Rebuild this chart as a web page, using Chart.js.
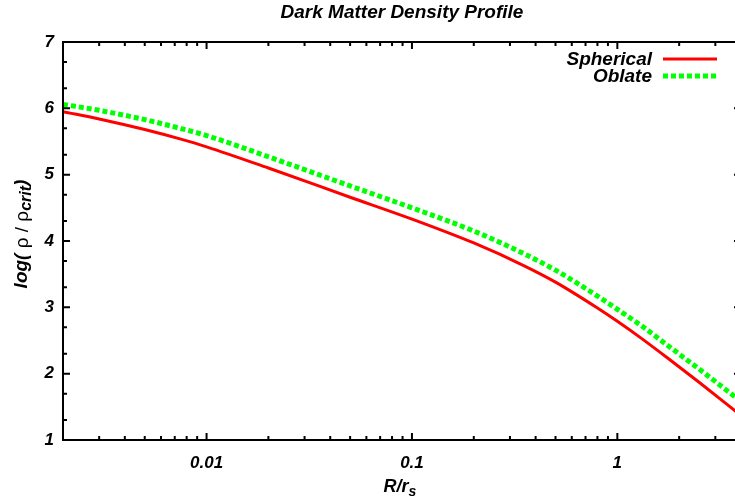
<!DOCTYPE html>
<html lang="en">
<head>
    <meta charset="UTF-8">
    <title>Dark Matter Density Profile</title>
    <style>
        body {
            margin: 0;
            padding: 0;
            background-color: #ffffff;
            overflow: hidden;
        }
        .wrap {
            position: relative;
            width: 745px;
            height: 504px;
        }
    </style>
</head>
<body>
    <div class="wrap">
        <canvas id="profileChart" width="745" height="504"></canvas>
    </div>

    <script src="https://cdn.jsdelivr.net/npm/chart.js"></script>
    <script>
        // Values
        const radius = [0.002, 0.003, 0.005, 0.0075, 0.01, 0.02, 0.05, 0.1, 0.2, 0.35, 0.5, 0.8, 1, 1.3, 1.75, 2.5, 4];
        const spherical = [5.95, 5.84, 5.68, 5.535, 5.42, 5.10, 4.66, 4.33, 3.97, 3.63, 3.38, 2.99, 2.79, 2.54, 2.24, 1.87, 1.37];
        const oblate = [6.06, 5.97, 5.83, 5.695, 5.59, 5.27, 4.83, 4.50, 4.15, 3.81, 3.56, 3.17, 2.97, 2.73, 2.43, 2.07, 1.58];
        const seriesNames = ['Spherical', 'Oblate'];
        const xTickValues = [0.01, 0.1, 1];
        const yTickValues = [1, 2, 3, 4, 5, 6, 7];

        const FONT = '"Liberation Sans", Arial, sans-serif';
        const ctx = document.getElementById('profileChart').getContext('2d');

        function toPoints(ys) {
            return radius.map((r, i) => ({ x: r, y: ys[i] }));
        }

        // Draws a row of text pieces with mixed fonts, centered on (0,0)
        function drawPieces(c, pieces) {
            let total = 0;
            pieces.forEach(p => { c.font = p.font; p.w = c.measureText(p.text).width; total += p.w; });
            let x = -total / 2;
            pieces.forEach(p => {
                c.font = p.font;
                c.fillText(p.text, x, p.dy || 0);
                x += p.w;
            });
        }

        // gnuplot-like frame, inward ticks, titles and key
        const decorations = {
            id: 'decorations',
            afterDatasetsDraw(chart) {
                const c = chart.ctx;
                const area = chart.chartArea;
                const xs = chart.scales.x;
                const ys = chart.scales.y;
                c.save();
                c.strokeStyle = '#000';
                c.fillStyle = '#000';
                c.lineWidth = 2;

                // frame
                c.strokeRect(area.left, area.top, area.right - area.left, area.bottom - area.top);

                // x ticks (log), bottom and top
                for (let d = -3; d <= 0; d++) {
                    for (let m = 1; m <= 9; m++) {
                        const v = m * Math.pow(10, d);
                        if (v < xs.min || v > xs.max) continue;
                        const px = xs.getPixelForValue(v);
                        const len = m === 1 ? 7 : 4;
                        c.beginPath();
                        c.moveTo(px, area.bottom); c.lineTo(px, area.bottom - len);
                        c.moveTo(px, area.top); c.lineTo(px, area.top + len);
                        c.stroke();
                    }
                }
                // y ticks, left and right
                for (let n = 1; n <= 7; n++) {
                    [0, Math.log10(2), Math.log10(5)].forEach((f, k) => {
                        const v = n + f;
                        if (v > ys.max) return;
                        const py = ys.getPixelForValue(v);
                        const len = k === 0 ? 7 : 4;
                        c.beginPath();
                        c.moveTo(area.left, py); c.lineTo(area.left + len, py);
                        c.moveTo(area.right, py); c.lineTo(area.right - len, py);
                        c.stroke();
                    });
                }

                // title
                const midX = (area.left + area.right) / 2;
                c.textAlign = 'left';
                c.textBaseline = 'middle';
                c.save();
                c.translate(midX, 13);
                drawPieces(c, [{ text: 'Dark Matter Density Profile', font: 'italic bold 19px ' + FONT }]);
                c.restore();

                // x axis title
                c.save();
                c.translate(midX - 2, 487);
                drawPieces(c, [
                    { text: 'R/r', font: 'italic bold 18px ' + FONT },
                    { text: 's', font: 'italic bold 14px ' + FONT, dy: 5 }
                ]);
                c.restore();

                // y axis title
                c.save();
                c.translate(22, 234);
                c.rotate(-Math.PI / 2);
                drawPieces(c, [
                    { text: 'log(', font: 'italic bold 19px ' + FONT },
                    { text: ' \u03C1 / \u03C1', font: '19px ' + FONT, dy: 1 },
                    { text: 'crit', font: 'italic bold 16px ' + FONT, dy: 5 },
                    { text: ')', font: 'italic bold 19px ' + FONT }
                ]);
                c.restore();

                // key
                c.textAlign = 'right';
                c.font = 'italic bold 19px ' + FONT;
                chart.data.datasets.forEach((ds, i) => {
                    const y = 60 + i * 17;
                    c.fillStyle = '#000';
                    c.fillText(ds.label, 652, y);
                    c.beginPath();
                    c.strokeStyle = ds.borderColor;
                    c.lineWidth = ds.borderWidth;
                    c.setLineDash(ds.borderDash || []);
                    c.moveTo(663, y - 1);
                    c.lineTo(717, y - 1);
                    c.stroke();
                    c.setLineDash([]);
                });
                c.restore();
            }
        };

        const chart = new Chart(ctx, {
            type: 'line',
            data: {
                datasets: [{
                    label: seriesNames[0],
                    data: toPoints(spherical),
                    borderColor: '#ff0000',
                    borderWidth: 3,
                    pointRadius: 0,
                    cubicInterpolationMode: 'monotone',
                    fill: false
                }, {
                    label: seriesNames[1],
                    data: toPoints(oblate),
                    borderColor: '#00ff00',
                    borderWidth: 5,
                    borderDash: [5, 3],
                    pointRadius: 0,
                    cubicInterpolationMode: 'monotone',
                    fill: false
                }]
            },
            options: {
                responsive: false,
                animation: false,
                layout: { padding: { top: 42, right: 4, left: 0, bottom: 0 } },
                plugins: {
                    legend: { display: false },
                    title: { display: false },
                    tooltip: { enabled: false }
                },
                scales: {
                    x: {
                        type: 'logarithmic',
                        min: 0.002,
                        max: 4,
                        grid: { display: false, drawTicks: false },
                        border: { display: false },
                        afterBuildTicks: axis => { axis.ticks = xTickValues.map(v => ({ value: v })); },
                        afterFit: axis => { axis.height = 64; },
                        ticks: {
                            color: '#000',
                            padding: 13,
                            maxRotation: 0,
                            font: { family: FONT, size: 17, style: 'italic', weight: 'bold' },
                            callback: v => String(v)
                        }
                    },
                    y: {
                        min: 1,
                        max: 7,
                        grid: { display: false, drawTicks: false },
                        border: { display: false },
                        afterBuildTicks: axis => { axis.ticks = yTickValues.map(v => ({ value: v })); },
                        afterFit: axis => { axis.width = 63; },
                        ticks: {
                            color: '#000',
                            padding: 9,
                            font: { family: FONT, size: 17, style: 'italic', weight: 'bold' },
                            callback: v => String(v)
                        }
                    }
                }
            },
            plugins: [decorations]
        });
    </script>
</body>
</html>
